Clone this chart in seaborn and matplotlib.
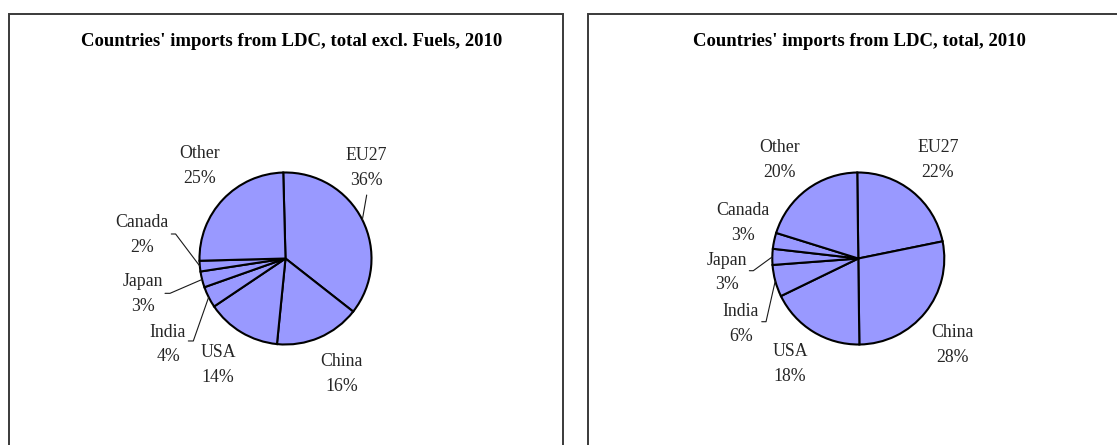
import numpy as np
import pandas as pd
import matplotlib
matplotlib.use("Agg")
import matplotlib.pyplot as plt
from matplotlib.patches import Rectangle
import seaborn as sns

# ---------------- data ----------------
categories = ["EU27", "China", "USA", "India", "Japan", "Canada", "Other"]
share_excl_fuels = [36, 16, 14, 4, 3, 2, 25]
share_total = [22, 28, 18, 6, 3, 3, 20]
titles = ["Countries' imports from LDC, total excl. Fuels, 2010",
          "Countries' imports from LDC, total, 2010"]

df = pd.DataFrame({"country": categories,
                   "excl_fuels": share_excl_fuels,
                   "total": share_total})

# ---------------- style ----------------
sns.set_theme(style="white")
plt.rcParams['font.family'] = ['Liberation Serif', 'DejaVu Serif']

W, H = 1117, 445
fig = plt.figure(figsize=(W / 100, H / 100), dpi=100)
fig.patch.set_facecolor("white")

pie_color = "#9999FF"
R = 86.0  # pie radius in px

def fx(px):
    return px / W

def fy(py):
    return (H - py) / H

# layout for each panel (pixel geometry, label offsets in pie radii)
panels = [
    dict(col="excl_fuels", title=titles[0], box=(9, 14, 563, 460),
         center=(285.5, 258.5), start=91.5, title_xy=(292, 41),
         labels={"EU27": (0.936, 1.052), "China": (0.651, -1.343),
                 "USA": (-0.785, -1.238), "India": (-1.366, -1.0),
                 "Japan": (-1.657, -0.413), "Canada": (-1.672, 0.273),
                 "Other": (-0.994, 1.076)},
         leaders={"EU27": [(0.944, 0.738)],
                  "Canada": [(-1.328, 0.285), (-1.278, 0.285)],
                  "Japan": [(-1.401, -0.405), (-1.343, -0.405)],
                  "India": [(-1.130, -0.959), (-1.072, -0.959)]}),
    dict(col="total", title=titles[1], box=(588, 14, 1130, 460),
         center=(858.3, 258.5), start=90.7, title_xy=(859, 41),
         labels={"EU27": (0.927, 1.145), "China": (1.090, -1.002),
                 "USA": (-0.794, -1.223), "India": (-1.364, -0.762),
                 "Japan": (-1.527, -0.163), "Canada": (-1.337, 0.416),
                 "Other": (-0.916, 1.149)},
         leaders={"Japan": [(-1.267, -0.142), (-1.221, -0.142)],
                  "India": [(-1.123, -0.735), (-1.073, -0.735)]}),
]

S = 2.3  # half-size of the pie axes in radii

for p in panels:
    # panel frame
    x0, y0, x1, y1 = p["box"]
    fig.patches.append(Rectangle((fx(x0), fy(y1)), fx(x1) - fx(x0), fy(y0) - fy(y1),
                                 transform=fig.transFigure, fill=False,
                                 edgecolor="#3a3a3a", linewidth=1.4, zorder=0))
    # title
    fig.text(fx(p["title_xy"][0]), fy(p["title_xy"][1]), p["title"],
             ha="center", va="center", fontsize=13.5, fontweight="bold",
             color="black")

    cx, cy = p["center"]
    half = S * R
    ax = fig.add_axes([fx(cx - half), fy(cy + half), 2 * half / W, 2 * half / H])
    ax.set_facecolor("none")
    vals = df[p["col"]].tolist()
    wedges, _ = ax.pie(vals, colors=[pie_color] * len(vals), startangle=p["start"],
                       counterclock=False, radius=1.0,
                       wedgeprops=dict(edgecolor="black", linewidth=1.5))
    ax.set_xlim(-S, S)
    ax.set_ylim(-S, S)
    ax.set_aspect("auto")
    ax.axis("off")

    for name, val, w in zip(df["country"], vals, wedges):
        lx, ly = p["labels"][name]
        ax.text(lx, ly, f"{name}\n{val}%", ha="center", va="center",
                multialignment="center", fontsize=12.8, color="#262626",
                linespacing=1.6)
        if name in p["leaders"]:
            mid = np.deg2rad((w.theta1 + w.theta2) / 2)
            pts = p["leaders"][name] + [(np.cos(mid), np.sin(mid))]
            xs, ys = zip(*pts)
            ax.plot(xs, ys, color="#1a1a1a", linewidth=0.8, clip_on=False)

fig.savefig("out.png", dpi=100, facecolor="white")
